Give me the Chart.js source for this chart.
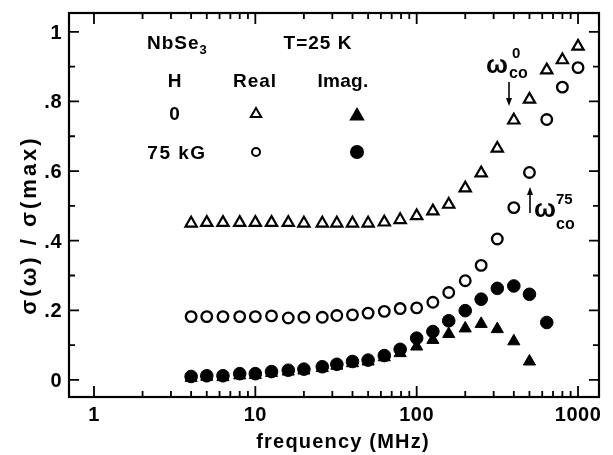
<!DOCTYPE html>
<html>
<head>
<meta charset="utf-8">
<script src="https://cdn.jsdelivr.net/npm/chart.js@4.4.0/dist/chart.umd.min.js"></script>
<style>
  html, body { margin: 0; padding: 0; background: #fff; }
  #wrap { width: 613px; height: 455px; }
</style>
</head>
<body>
<div id="wrap"><canvas id="c" width="613" height="455"></canvas></div>
<script>
// frequency in MHz
const freq = [4, 5, 6.3, 8, 10, 12.6, 16, 20, 26, 32, 40, 50, 63, 79, 100, 126, 158, 200, 251, 316, 400, 500, 640, 800, 1000];

// sigma(w)/sigma(max)
const realH0 = [.45, .452, .452, .452, .452, .452, .452, .45, .45, .45, .45, .45, .453, .46, .471, .485, .504, .551, .594, .665, .746, .806, .89, .919, .958];
const realH75 = [.182, .182, .182, .182, .182, .184, .178, .18, .18, .185, .187, .192, .197, .205, .207, .223, .251, .285, .329, .405, .495, .596, .748, .841, .897];
const imagH0 = [.006, .009, .008, .013, .014, .02, .024, .027, .034, .041, .048, .053, .065, .077, .096, .115, .132, .148, .161, .146, .111, .053];
const imagH75 = [.01, .012, .012, .018, .018, .024, .028, .031, .038, .045, .053, .057, .07, .088, .12, .139, .17, .199, .232, .263, .27, .246, .165];

const xTickLabels = [1, 10, 100, 1000];
const yTickValues = [0, .2, .4, .6, .8, 1];
const yTickLabels = ['0', '.2', '.4', '.6', '.8', '1'];

function pts(vals) {
  return vals.map((v, i) => ({ x: freq[i], y: v }));
}

const FONT = '"Liberation Sans", Arial, sans-serif';

function txt(ctx, s, x, y, size, align, spacing) {
  ctx.font = 'bold ' + size + 'px ' + FONT;
  ctx.textAlign = align || 'left';
  ctx.letterSpacing = (spacing || 0) + 'px';
  ctx.fillText(s, x, y);
  const w = ctx.measureText(s).width;
  ctx.letterSpacing = '0px';
  return w;
}

function marker(ctx, style, filled, x, y, r) {
  ctx.beginPath();
  if (style === 'circle') {
    ctx.arc(x, y, r, 0, Math.PI * 2);
  } else {
    ctx.moveTo(x, y - r);
    ctx.lineTo(x + r * 0.866, y + r * 0.5);
    ctx.lineTo(x - r * 0.866, y + r * 0.5);
    ctx.closePath();
  }
  ctx.fillStyle = filled ? '#000' : '#fff';
  ctx.fill();
  ctx.lineWidth = 2;
  ctx.strokeStyle = '#000';
  ctx.stroke();
}

const frame = {
  id: 'frame',
  afterDraw(chart) {
    const ctx = chart.ctx;
    const a = chart.chartArea;
    const xs = chart.scales.x, ys = chart.scales.y;
    ctx.save();
    ctx.strokeStyle = '#000';
    ctx.fillStyle = '#000';

    // frame
    ctx.lineWidth = 2.2;
    ctx.strokeRect(a.left, a.top, a.right - a.left, a.bottom - a.top);

    // x ticks (log, inward, top and bottom)
    ctx.lineWidth = 1.8;
    ctx.beginPath();
    for (let d = 1; d <= 1000; d *= 10) {
      for (let m = 1; m <= 9; m++) {
        const v = d * m;
        if (v > xs.max || (d === 1000 && m > 1)) continue;
        const px = xs.getPixelForValue(v);
        const len = m === 1 ? 11 : 6;
        ctx.moveTo(px, a.bottom);
        ctx.lineTo(px, a.bottom - len);
        ctx.moveTo(px, a.top);
        ctx.lineTo(px, a.top + len);
      }
    }
    // y ticks, left and right
    for (let k = 0; k <= 10; k++) {
      const py = ys.getPixelForValue(k / 10);
      const len = k % 2 === 0 ? 10 : 6;
      ctx.moveTo(a.left, py);
      ctx.lineTo(a.left + len, py);
      ctx.moveTo(a.right, py);
      ctx.lineTo(a.right - len, py);
    }
    ctx.stroke();

    // tick labels
    ctx.textBaseline = 'alphabetic';
    xTickLabels.forEach(v => {
      txt(ctx, String(v), xs.getPixelForValue(v), 421, 20, 'center', 0.5);
    });
    yTickValues.forEach((v, i) => {
      txt(ctx, yTickLabels[i], 62, ys.getPixelForValue(v) + 7, 20, 'right', 0.5);
    });

    // axis titles
    txt(ctx, 'frequency (MHz)', 343, 448, 20, 'center', 1.2);
    ctx.save();
    ctx.translate(36, 225);
    ctx.rotate(-Math.PI / 2);
    txt(ctx, 'σ(ω) / σ(max)', 0, 0, 22, 'center', 3);
    ctx.restore();

    // legend block
    let w = txt(ctx, 'NbSe', 147, 49, 19, 'left', 1);
    txt(ctx, '3', 147 + w, 54, 13, 'left');
    txt(ctx, 'T=25 K', 318, 49, 19, 'center', 1);
    txt(ctx, 'H', 175, 87, 19, 'center', 1);
    txt(ctx, 'Real', 255, 87, 19, 'center', 1);
    txt(ctx, 'Imag.', 343, 87, 19, 'center', 0.3);
    txt(ctx, '0', 175, 120, 19, 'center', 1);
    txt(ctx, '75 kG', 177, 159, 19, 'center', 1.5);
    marker(ctx, 'triangle', false, 256, 114, 6);
    marker(ctx, 'triangle', true, 357, 116, 7);
    marker(ctx, 'circle', false, 256, 152, 4);
    marker(ctx, 'circle', true, 357, 152, 6);

    // omega_co^0 with arrow down
    txt(ctx, 'ω', 486, 73, 26, 'left');
    txt(ctx, '0', 512, 58, 15, 'left');
    txt(ctx, 'co', 509, 78, 16, 'left');
    ctx.lineWidth = 1.6;
    ctx.beginPath();
    ctx.moveTo(509, 82);
    ctx.lineTo(509, 100);
    ctx.stroke();
    ctx.beginPath();
    ctx.moveTo(506, 98);
    ctx.lineTo(512, 98);
    ctx.lineTo(509, 106);
    ctx.closePath();
    ctx.fill();

    // omega_co^75 with arrow up
    txt(ctx, 'ω', 534, 217, 26, 'left');
    txt(ctx, '75', 556, 204, 15, 'left');
    txt(ctx, 'co', 556, 229, 16, 'left');
    ctx.beginPath();
    ctx.moveTo(530, 213);
    ctx.lineTo(530, 193);
    ctx.stroke();
    ctx.beginPath();
    ctx.moveTo(527, 195);
    ctx.lineTo(533, 195);
    ctx.lineTo(530, 187);
    ctx.closePath();
    ctx.fill();

    ctx.restore();
  }
};

new Chart(document.getElementById('c'), {
  type: 'scatter',
  data: {
    datasets: [
      { label: 'Imag. 0', data: pts(imagH0), pointStyle: 'triangle', pointRadius: 7, backgroundColor: '#000', borderColor: '#000', borderWidth: 1 },
      { label: 'Imag. 75 kG', data: pts(imagH75), pointStyle: 'circle', pointRadius: 6.3, backgroundColor: '#000', borderColor: '#000', borderWidth: 1 },
      { label: 'Real 0', data: pts(realH0), pointStyle: 'triangle', pointRadius: 6.5, backgroundColor: '#fff', borderColor: '#000', borderWidth: 2.2 },
      { label: 'Real 75 kG', data: pts(realH75), pointStyle: 'circle', pointRadius: 5.3, backgroundColor: '#fff', borderColor: '#000', borderWidth: 2.3 }
    ]
  },
  options: {
    responsive: false,
    animation: false,
    layout: { padding: { left: 69, right: 14, top: 13, bottom: 58 } },
    plugins: { legend: { display: false }, tooltip: { enabled: false } },
    scales: {
      x: { type: 'logarithmic', min: 0.71, max: 1349, display: false },
      y: { type: 'linear', min: -0.049, max: 1.054, display: false }
    }
  },
  plugins: [frame]
});
</script>
</body>
</html>
